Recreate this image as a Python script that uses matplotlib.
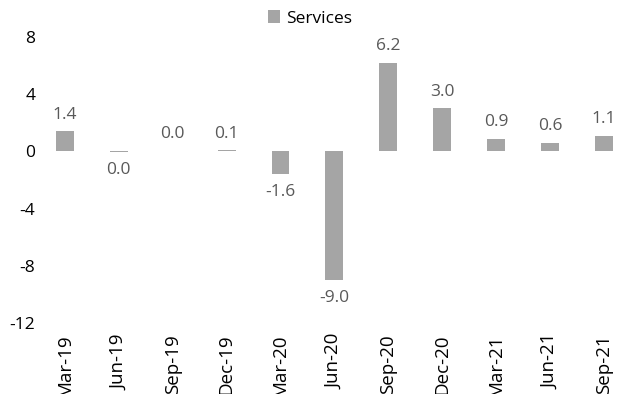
import matplotlib.pyplot as plt

plt.rcParams['font.family'] = ['Open Sans', 'DejaVu Sans']

quarters = ["Mar-19", "Jun-19", "Sep-19", "Dec-19", "Mar-20", "Jun-20",
            "Sep-20", "Dec-20", "Mar-21", "Jun-21", "Sep-21"]
services = [1.4, -0.03, 0.04, 0.1, -1.6, -9.0, 6.2, 3.0, 0.9, 0.6, 1.1]
yticks = [-12, -8, -4, 0, 4, 8]

fig = plt.figure(figsize=(6.2, 3.94), dpi=100)
ax = fig.add_axes([38/620, 1 - 323/394, 582/620, 286/394])

x = range(len(quarters))
bars = ax.bar(x, services, width=0.33, color="#A5A5A5", label="Services")

# value labels above / below each bar
for xi, v in zip(x, services):
    txt = f"{v:.1f}".replace("-0.0", "0.0")
    if v >= 0:
        ax.annotate(txt, (xi, v), xytext=(0, 6), textcoords="offset points",
                    ha="center", va="bottom", fontsize=12.5, color="#595959")
    else:
        ax.annotate(txt, (xi, v), xytext=(0, -7), textcoords="offset points",
                    ha="center", va="top", fontsize=12.5, color="#595959")

ax.set_xlim(-0.5, 10.3)
ax.set_ylim(-12, 8)
ax.set_yticks(yticks)
ax.set_yticklabels([str(t) for t in yticks], fontsize=12.5)
ax.set_xticks(list(x))
ax.set_xticklabels(quarters, rotation=90, fontsize=13.5, va="top")
ax.tick_params(length=0)
ax.tick_params(axis="y", pad=2)
ax.tick_params(axis="x", pad=8)
for s in ax.spines.values():
    s.set_visible(False)

fig.legend(loc="upper center", bbox_to_anchor=(0.5, 1.0), frameon=False,
           fontsize=12.5, handlelength=0.7, handleheight=0.7, handletextpad=0.3,
           borderaxespad=0.2)

fig.savefig("out.png", dpi=100)
